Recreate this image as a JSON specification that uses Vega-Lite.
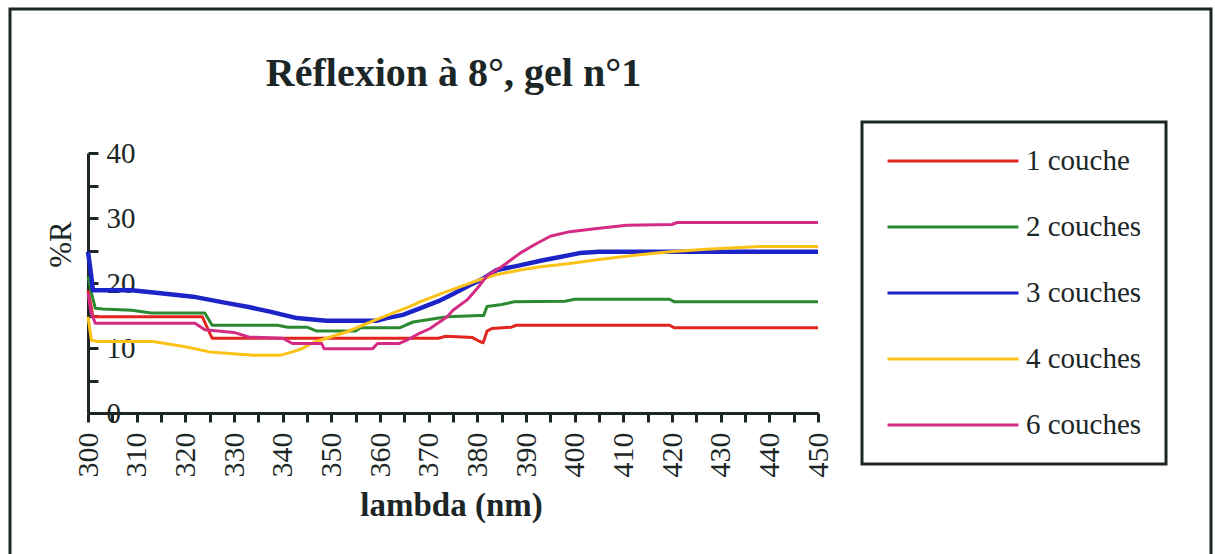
{
  "$schema": "https://vega.github.io/schema/vega-lite/v6.json",
  "autosize": "none",
  "padding": {"left": 10, "top": 9, "right": 4, "bottom": -15},
  "width": 1201,
  "height": 560,
  "background": "white",
  "config": {
    "view": {"stroke": "#1c2626", "strokeWidth": 3, "fill": "white"},
    "font": "Liberation Serif",
    "axis": {"labelFont": "Liberation Serif", "titleFont": "Liberation Serif"},
    "legend": {"labelFont": "Liberation Serif"}
  },
  "title": {
    "text": "Réflexion à 8°, gel n°1",
    "font": "Liberation Serif",
    "fontSize": 40,
    "fontWeight": "bold",
    "color": "#1c2626",
    "anchor": "middle",
    "frame": "group",
    "dx": -157,
    "offset": -117,
    "baseline": "alphabetic"
  },
  "data": {
    "values": [
      {"serie": "1 couche", "nm": 300, "R": 18.9},
      {"serie": "1 couche", "nm": 300.5, "R": 17.0},
      {"serie": "1 couche", "nm": 301, "R": 14.8},
      {"serie": "1 couche", "nm": 310, "R": 14.8},
      {"serie": "1 couche", "nm": 323.5, "R": 14.8},
      {"serie": "1 couche", "nm": 325.5, "R": 11.5},
      {"serie": "1 couche", "nm": 340, "R": 11.5},
      {"serie": "1 couche", "nm": 360, "R": 11.5},
      {"serie": "1 couche", "nm": 372, "R": 11.5},
      {"serie": "1 couche", "nm": 373.5, "R": 11.8},
      {"serie": "1 couche", "nm": 377, "R": 11.7},
      {"serie": "1 couche", "nm": 379, "R": 11.6},
      {"serie": "1 couche", "nm": 380.5, "R": 11.0},
      {"serie": "1 couche", "nm": 381.2, "R": 10.8},
      {"serie": "1 couche", "nm": 382, "R": 12.6},
      {"serie": "1 couche", "nm": 383, "R": 13.0},
      {"serie": "1 couche", "nm": 387, "R": 13.2},
      {"serie": "1 couche", "nm": 388, "R": 13.5},
      {"serie": "1 couche", "nm": 400, "R": 13.5},
      {"serie": "1 couche", "nm": 419.5, "R": 13.5},
      {"serie": "1 couche", "nm": 420.5, "R": 13.1},
      {"serie": "1 couche", "nm": 450, "R": 13.1},

      {"serie": "2 couches", "nm": 300, "R": 21.0},
      {"serie": "2 couches", "nm": 300.7, "R": 18.5},
      {"serie": "2 couches", "nm": 301.5, "R": 16.1},
      {"serie": "2 couches", "nm": 303, "R": 16.0},
      {"serie": "2 couches", "nm": 309, "R": 15.8},
      {"serie": "2 couches", "nm": 313, "R": 15.4},
      {"serie": "2 couches", "nm": 324, "R": 15.4},
      {"serie": "2 couches", "nm": 325.5, "R": 13.5},
      {"serie": "2 couches", "nm": 339, "R": 13.5},
      {"serie": "2 couches", "nm": 341, "R": 13.2},
      {"serie": "2 couches", "nm": 345, "R": 13.2},
      {"serie": "2 couches", "nm": 347, "R": 12.6},
      {"serie": "2 couches", "nm": 355, "R": 12.6},
      {"serie": "2 couches", "nm": 356, "R": 13.1},
      {"serie": "2 couches", "nm": 364, "R": 13.1},
      {"serie": "2 couches", "nm": 366.8, "R": 14.0},
      {"serie": "2 couches", "nm": 373.8, "R": 14.8},
      {"serie": "2 couches", "nm": 380.5, "R": 15.0},
      {"serie": "2 couches", "nm": 381.3, "R": 15.0},
      {"serie": "2 couches", "nm": 382, "R": 16.4},
      {"serie": "2 couches", "nm": 385, "R": 16.7},
      {"serie": "2 couches", "nm": 387.5, "R": 17.1},
      {"serie": "2 couches", "nm": 398, "R": 17.2},
      {"serie": "2 couches", "nm": 400, "R": 17.5},
      {"serie": "2 couches", "nm": 419.5, "R": 17.5},
      {"serie": "2 couches", "nm": 420.5, "R": 17.1},
      {"serie": "2 couches", "nm": 450, "R": 17.1},

      {"serie": "3 couches", "nm": 300, "R": 24.8},
      {"serie": "3 couches", "nm": 300.6, "R": 21.5},
      {"serie": "3 couches", "nm": 301, "R": 18.9},
      {"serie": "3 couches", "nm": 309, "R": 18.9},
      {"serie": "3 couches", "nm": 315.4, "R": 18.4},
      {"serie": "3 couches", "nm": 321.6, "R": 17.9},
      {"serie": "3 couches", "nm": 328.6, "R": 16.9},
      {"serie": "3 couches", "nm": 333, "R": 16.3},
      {"serie": "3 couches", "nm": 337.4, "R": 15.6},
      {"serie": "3 couches", "nm": 342.9, "R": 14.6},
      {"serie": "3 couches", "nm": 349, "R": 14.2},
      {"serie": "3 couches", "nm": 359.4, "R": 14.2},
      {"serie": "3 couches", "nm": 361.4, "R": 14.6},
      {"serie": "3 couches", "nm": 364.7, "R": 15.1},
      {"serie": "3 couches", "nm": 368.2, "R": 16.1},
      {"serie": "3 couches", "nm": 372, "R": 17.2},
      {"serie": "3 couches", "nm": 375, "R": 18.3},
      {"serie": "3 couches", "nm": 378.5, "R": 19.7},
      {"serie": "3 couches", "nm": 381, "R": 20.6},
      {"serie": "3 couches", "nm": 384, "R": 22.0},
      {"serie": "3 couches", "nm": 388, "R": 22.6},
      {"serie": "3 couches", "nm": 393.5, "R": 23.5},
      {"serie": "3 couches", "nm": 397, "R": 24.0},
      {"serie": "3 couches", "nm": 401, "R": 24.6},
      {"serie": "3 couches", "nm": 405, "R": 24.8},
      {"serie": "3 couches", "nm": 419.6, "R": 24.8},
      {"serie": "3 couches", "nm": 427, "R": 24.8},
      {"serie": "3 couches", "nm": 450, "R": 24.8},

      {"serie": "4 couches", "nm": 300, "R": 14.8},
      {"serie": "4 couches", "nm": 300.7, "R": 11.2},
      {"serie": "4 couches", "nm": 302, "R": 11.0},
      {"serie": "4 couches", "nm": 313.4, "R": 11.0},
      {"serie": "4 couches", "nm": 320, "R": 10.2},
      {"serie": "4 couches", "nm": 325, "R": 9.4},
      {"serie": "4 couches", "nm": 334, "R": 8.9},
      {"serie": "4 couches", "nm": 339.6, "R": 8.9},
      {"serie": "4 couches", "nm": 342, "R": 9.4},
      {"serie": "4 couches", "nm": 344, "R": 9.9},
      {"serie": "4 couches", "nm": 346.2, "R": 10.8},
      {"serie": "4 couches", "nm": 347.7, "R": 11.2},
      {"serie": "4 couches", "nm": 353.2, "R": 12.5},
      {"serie": "4 couches", "nm": 360, "R": 14.6},
      {"serie": "4 couches", "nm": 366.8, "R": 16.6},
      {"serie": "4 couches", "nm": 368.2, "R": 17.1},
      {"serie": "4 couches", "nm": 373.8, "R": 18.7},
      {"serie": "4 couches", "nm": 380.5, "R": 20.5},
      {"serie": "4 couches", "nm": 384, "R": 21.3},
      {"serie": "4 couches", "nm": 388.8, "R": 22.0},
      {"serie": "4 couches", "nm": 393, "R": 22.5},
      {"serie": "4 couches", "nm": 399, "R": 23.0},
      {"serie": "4 couches", "nm": 405, "R": 23.6},
      {"serie": "4 couches", "nm": 412.8, "R": 24.3},
      {"serie": "4 couches", "nm": 419.6, "R": 24.8},
      {"serie": "4 couches", "nm": 427, "R": 25.2},
      {"serie": "4 couches", "nm": 438, "R": 25.6},
      {"serie": "4 couches", "nm": 450, "R": 25.6},

      {"serie": "6 couches", "nm": 300, "R": 18.5},
      {"serie": "6 couches", "nm": 300.6, "R": 15.5},
      {"serie": "6 couches", "nm": 301.5, "R": 13.8},
      {"serie": "6 couches", "nm": 315, "R": 13.8},
      {"serie": "6 couches", "nm": 322, "R": 13.8},
      {"serie": "6 couches", "nm": 324, "R": 12.8},
      {"serie": "6 couches", "nm": 330, "R": 12.4},
      {"serie": "6 couches", "nm": 333, "R": 11.7},
      {"serie": "6 couches", "nm": 340, "R": 11.5},
      {"serie": "6 couches", "nm": 342, "R": 10.7},
      {"serie": "6 couches", "nm": 348, "R": 10.7},
      {"serie": "6 couches", "nm": 348.5, "R": 9.9},
      {"serie": "6 couches", "nm": 358.5, "R": 9.9},
      {"serie": "6 couches", "nm": 359.5, "R": 10.7},
      {"serie": "6 couches", "nm": 364, "R": 10.7},
      {"serie": "6 couches", "nm": 365.5, "R": 11.2},
      {"serie": "6 couches", "nm": 368.2, "R": 12.3},
      {"serie": "6 couches", "nm": 370.3, "R": 13.0},
      {"serie": "6 couches", "nm": 373.8, "R": 14.8},
      {"serie": "6 couches", "nm": 375, "R": 15.8},
      {"serie": "6 couches", "nm": 377.9, "R": 17.4},
      {"serie": "6 couches", "nm": 380, "R": 19.2},
      {"serie": "6 couches", "nm": 382, "R": 21.1},
      {"serie": "6 couches", "nm": 385, "R": 22.5},
      {"serie": "6 couches", "nm": 388.8, "R": 24.6},
      {"serie": "6 couches", "nm": 392, "R": 26.0},
      {"serie": "6 couches", "nm": 395, "R": 27.2},
      {"serie": "6 couches", "nm": 399, "R": 27.9},
      {"serie": "6 couches", "nm": 404.6, "R": 28.4},
      {"serie": "6 couches", "nm": 410.7, "R": 28.9},
      {"serie": "6 couches", "nm": 420, "R": 29.0},
      {"serie": "6 couches", "nm": 421, "R": 29.3},
      {"serie": "6 couches", "nm": 450, "R": 29.3}
    ]
  },
  "mark": {"type": "line", "interpolate": "linear", "strokeJoin": "round", "strokeCap": "butt"},
  "encoding": {
    "x": {
      "field": "nm",
      "type": "quantitative",
      "scale": {"domain": [300, 450], "range": [78, 808], "nice": false, "zero": false},
      "axis": {
        "orient": "bottom",
        "offset": -156,
        "grid": false,
        "values": [300, 305, 310, 315, 320, 325, 330, 335, 340, 345, 350, 355, 360, 365, 370, 375, 380, 385, 390, 395, 400, 405, 410, 415, 420, 425, 430, 435, 440, 445, 450],
        "labelExpr": "datum.value % 10 === 0 ? datum.label : ''",
        "labelAngle": -90,
        "labelFont": "Liberation Serif",
        "labelFontSize": 30,
        "labelColor": "#1c2626",
        "labelPadding": 10,
        "labelOverlap": false,
        "labelFlush": false,
        "labelBound": false,
        "tickSize": 9,
        "tickWidth": 3,
        "tickColor": "#1c2626",
        "domainColor": "#1c2626",
        "domainWidth": 3,
        "title": "lambda (nm)",
        "titleFont": "Liberation Serif",
        "titleFontSize": 33,
        "titleFontWeight": "bold",
        "titleColor": "#1c2626",
        "titleX": 441,
        "titleY": 102,
        "titleAlign": "center",
        "titleBaseline": "alphabetic"
      }
    },
    "y": {
      "field": "R",
      "type": "quantitative",
      "scale": {"domain": [0, 40], "range": [404, 144], "nice": false, "zero": false},
      "axis": {
        "orient": "left",
        "offset": -78,
        "grid": false,
        "values": [0, 5, 10, 15, 20, 25, 30, 35, 40],
        "labelExpr": "datum.value % 10 === 0 ? datum.label : ''",
        "labelAlign": "left",
        "labelBaseline": "middle",
        "labelFont": "Liberation Serif",
        "labelFontSize": 29,
        "labelColor": "#1c2626",
        "labelPadding": -8,
        "labelOverlap": false,
        "labelFlush": false,
        "labelBound": false,
        "tickSize": -10,
        "tickWidth": 3,
        "tickColor": "#1c2626",
        "domainColor": "#1c2626",
        "domainWidth": 3,
        "title": "%R",
        "titleFont": "Liberation Serif",
        "titleFontSize": 31,
        "titleFontWeight": "normal",
        "titleColor": "#1c2626",
        "titleX": -27,
        "titleY": 235,
        "titleAngle": -90,
        "titleAlign": "center",
        "titleBaseline": "middle"
      }
    },
    "color": {
      "field": "serie",
      "type": "nominal",
      "scale": {
        "domain": ["1 couche", "2 couches", "3 couches", "4 couches", "6 couches"],
        "range": ["#e2261f", "#2b8a2f", "#1c24c8", "#fdc218", "#d42c84"]
      },
      "legend": {
        "orient": "none",
        "legendX": 852,
        "legendY": 113,
        "title": null,
        "symbolType": "M-5,0H5",
        "symbolSize": 686,
        "symbolStrokeWidth": 3,
        "symbolOffset": 52,
        "labelOffset": 58,
        "labelFont": "Liberation Serif",
        "labelFontSize": 29,
        "labelColor": "#1c2626",
        "labelLimit": 0,
        "rowPadding": 36,
        "padding": 24,
        "strokeColor": "#1c2626",
        "fillColor": "white",
        "encode": {"legend": {"update": {"strokeWidth": {"value": 3}}}}
      }
    },
    "strokeWidth": {
      "condition": {"test": "datum.serie === '3 couches'", "value": 4.5},
      "value": 3
    }
  }
}
